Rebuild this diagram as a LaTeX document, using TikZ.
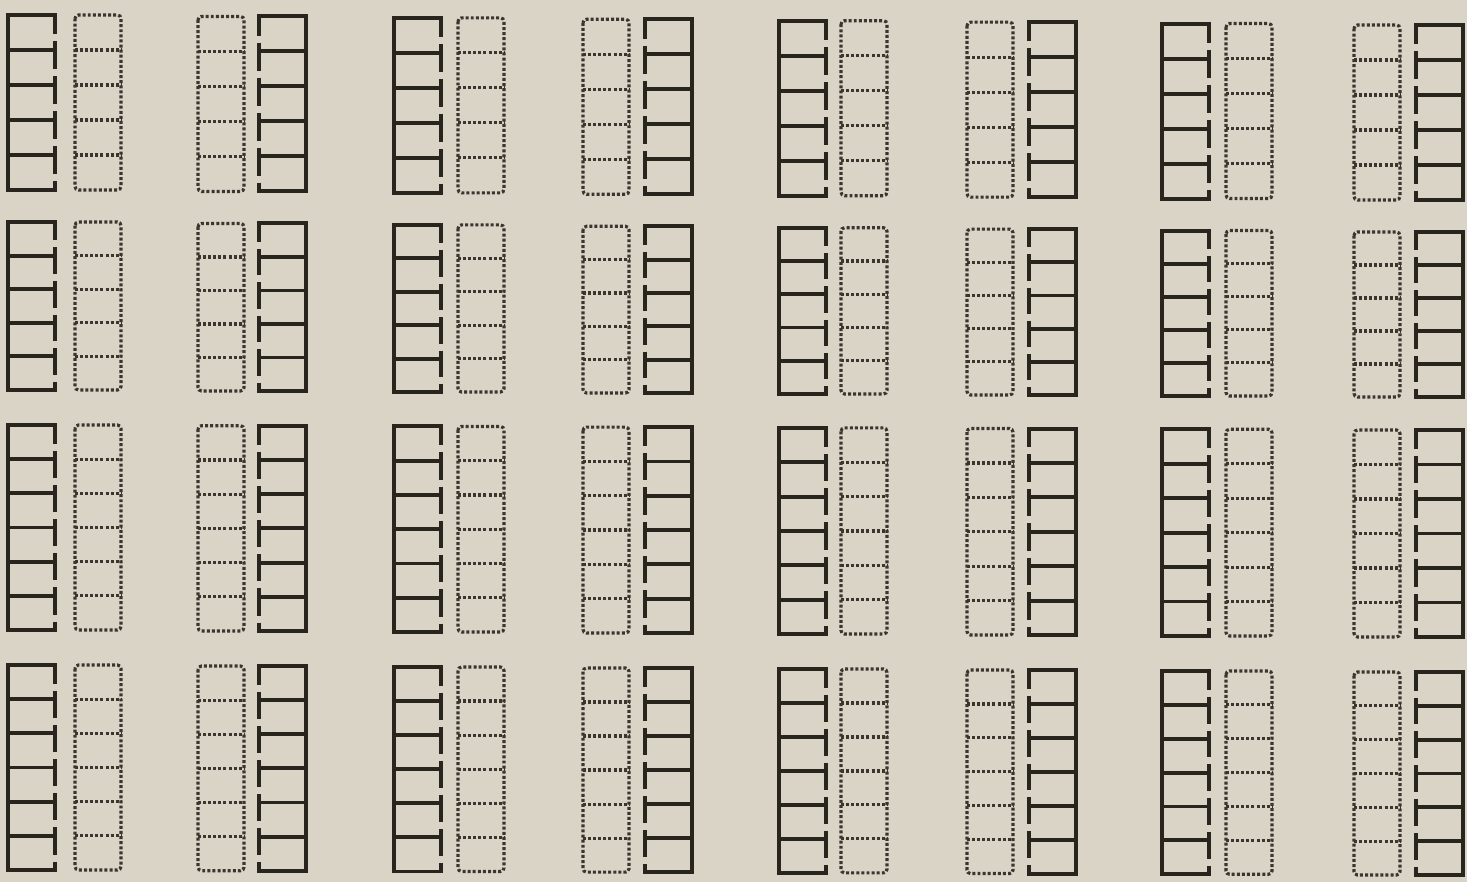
\documentclass[tikz,border=0pt]{standalone}
\usetikzlibrary{calc}
\definecolor{paper}{RGB}{217,212,198}
\definecolor{ink}{RGB}{40,36,30}
\definecolor{dotink}{RGB}{58,53,46}
\tikzset{
  solidlad/.style={draw=ink, line width=2.2pt, line cap=rect},
  doorseg/.style={draw=ink, line width=2.2pt, line cap=butt},
  dotlad/.style={draw=dotink, line width=1.8pt, dash pattern=on 1.7pt off 1.2pt},
}
\begin{document}
\begin{tikzpicture}[x=0.02cm,y=-0.02cm]
\fill[paper] (0,0) rectangle (1467,882);
\useasboundingbox (0,0) rectangle (1467,882);
\foreach \ta/\tb/\ba/\bb/\n in {15/25/190/200/5, 222/232/390/397/5, 425/430/630/637/6, 665/672/870/875/6} {
  \foreach \k/\sx/\dx/\side in {0/8/75/1, 1/259/198/0, 2/394/458/1, 3/645/583/0, 4/779/841/1, 5/1029/967/0, 6/1162/1226/1, 7/1416/1354/0} {
    \pgfmathsetmacro\yt{\ta+(\tb-\ta)*\k/7}
    \pgfmathsetmacro\yb{\ba+(\bb-\ba)*\k/7}
    \pgfmathsetmacro\hh{(\yb-\yt)/\n}
    \pgfmathtruncatemacro\nm{\n-1}
    \pgfmathsetmacro\outx{\side==1 ? \sx : \sx+47}
    \pgfmathsetmacro\inx{\side==1 ? \sx+47 : \sx}
    % solid ladder
    \draw[solidlad] (\inx,\yt) -- (\outx,\yt) -- (\outx,\yb) -- (\inx,\yb);
    \foreach \i in {1,...,\nm} {
      \draw[solidlad] (\sx,{\yt+\i*\hh}) -- ({\sx+47},{\yt+\i*\hh});
    }
    \foreach \i in {1,...,\n} {
      \pgfmathsetmacro\ya{\yt+(\i-1)*\hh}
      \pgfmathsetmacro\yg{\ya+0.55*\hh}
      \draw[doorseg] (\inx,\ya) -- (\inx,\yg);
      \draw[doorseg] (\inx,{\yg+7}) -- (\inx,{\ya+\hh});
    }
    % dotted ladder
    \draw[dotlad, rounded corners=2pt] (\dx,\yt) rectangle ({\dx+46},\yb);
    \foreach \i in {1,...,\nm} {
      \draw[dotlad] (\dx,{\yt+\i*\hh}) -- ({\dx+46},{\yt+\i*\hh});
    }
  }
}
\end{tikzpicture}
\end{document}
